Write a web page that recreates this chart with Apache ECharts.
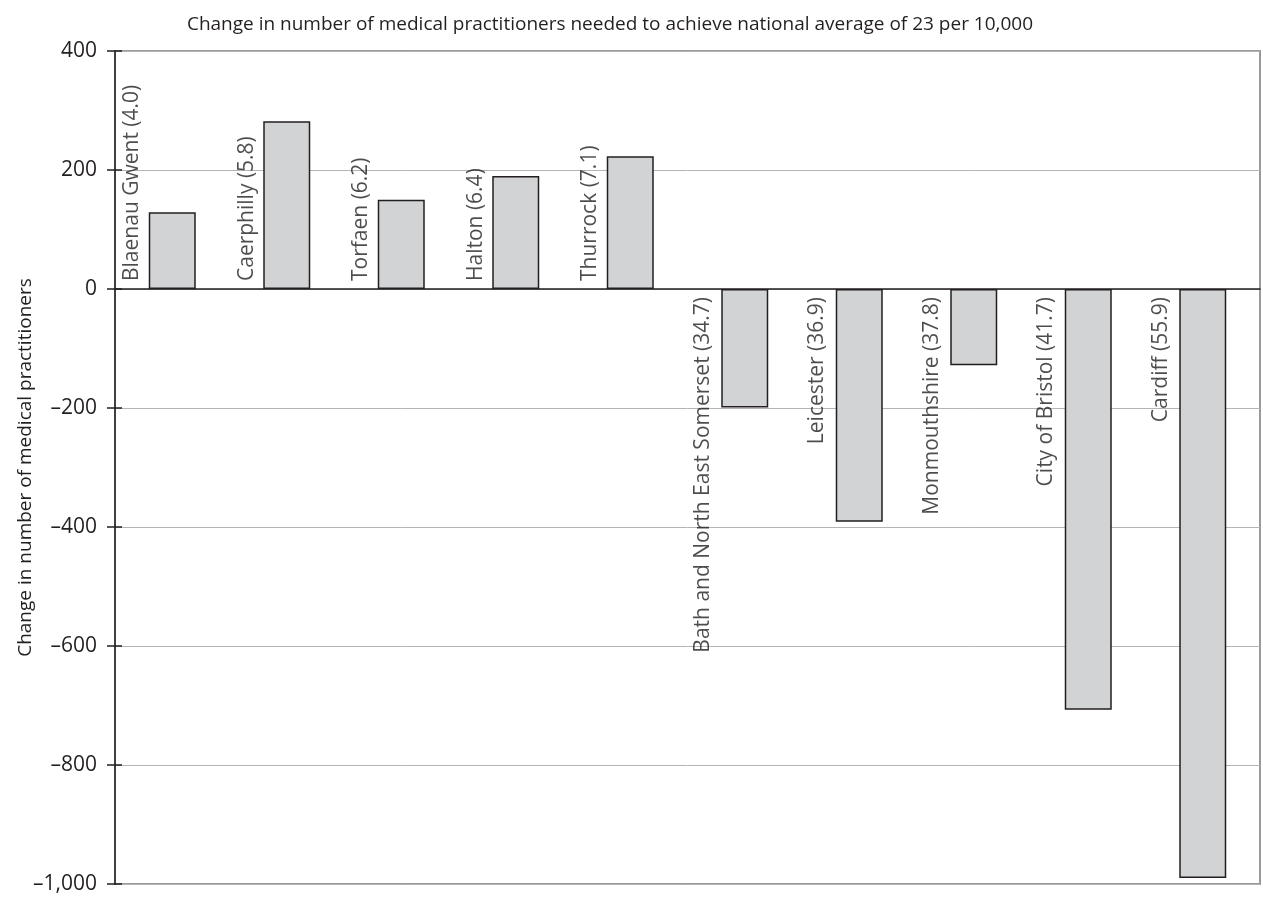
<!DOCTYPE html>
<html>
<head>
<meta charset="utf-8">
<script src="https://cdn.jsdelivr.net/npm/echarts@6/dist/echarts.min.js"></script>
<style>
html,body{margin:0;padding:0;background:#fff;}
#chart{width:1263px;height:899px;}
</style>
</head>
<body>
<div id="chart"></div>
<script>
const titleText = 'Change in number of medical practitioners needed to achieve national average of 23 per 10,000';
const yAxisName = 'Change in number of medical practitioners';
const categories = ['Blaenau Gwent (4.0)', 'Caerphilly (5.8)', 'Torfaen (6.2)', 'Halton (6.4)', 'Thurrock (7.1)',
  'Bath and North East Somerset (34.7)', 'Leicester (36.9)', 'Monmouthshire (37.8)', 'City of Bristol (41.7)', 'Cardiff (55.9)'];
const values = [129, 282, 150, 190, 223, -199, -391, -128, -707, -990];
const yMin = -1000, yMax = 400, yStep = 200;

const FONT = '"Open Sans", sans-serif';
const TXT = '#231f20';

function fmtTick(v) {
  const s = Math.abs(v).toLocaleString('en-US');
  return v < 0 ? '\u2013' + s : s;
}

// label offsets are in the rotated text frame: [along text, across text]
const labelData = categories.map((c, i) => ({
  value: [i, 0],
  name: c,
  label: values[i] >= 0
    ? { align: 'left', offset: [8, -40] }
    : { align: 'right', offset: [-8, -42] }
}));

const chart = echarts.init(document.getElementById('chart'), null, { renderer: 'canvas' });
chart.setOption({
  animation: false,
  backgroundColor: '#ffffff',
  title: {
    text: titleText,
    left: 605,
    top: 10,
    textAlign: 'center',
    textStyle: { fontFamily: FONT, fontSize: 19, fontWeight: 'normal', color: TXT }
  },
  grid: {
    left: 115, right: 3, top: 51, bottom: 15,
    show: true, borderColor: '#9a9a9a', borderWidth: 2, backgroundColor: 'transparent'
  },
  xAxis: {
    type: 'category',
    data: categories,
    axisLine: { show: true, onZero: true, lineStyle: { color: '#231f20', width: 1.5 } },
    axisTick: { show: false },
    axisLabel: { show: false },
    splitLine: { show: false }
  },
  yAxis: [
    {
      type: 'value',
      min: yMin, max: yMax, interval: yStep,
      name: yAxisName,
      nameLocation: 'middle',
      nameGap: 80,
      nameMoveOverlap: false,
      nameTextStyle: { fontFamily: FONT, fontSize: 19, color: TXT },
      axisLine: { show: true, onZero: false, lineStyle: { color: '#231f20', width: 1.5 } },
      axisTick: { show: true, inside: false, length: 8, lineStyle: { color: '#231f20', width: 1.5 } },
      axisLabel: { fontFamily: FONT, fontSize: 21, color: TXT, margin: 18, formatter: fmtTick },
      splitLine: { show: true, lineStyle: { color: '#b4b4b4', width: 1 } }
    },
    {
      type: 'value',
      position: 'left',
      min: yMin, max: yMax, interval: yStep,
      axisLine: { show: false, onZero: false },
      axisTick: { show: true, inside: true, length: 7, lineStyle: { color: '#231f20', width: 1.5 } },
      axisLabel: { show: false },
      splitLine: { show: false }
    }
  ],
  series: [
    {
      type: 'bar',
      data: values,
      barWidth: 47,
      itemStyle: { color: '#d1d3d4', borderColor: '#231f20', borderWidth: 1.5 },
      z: 3
    },
    {
      type: 'scatter',
      data: labelData,
      symbolSize: 0,
      silent: true,
      z: 4,
      label: {
        show: true,
        position: 'inside',
        rotate: 90,
        verticalAlign: 'middle',
        formatter: p => p.name,
        fontFamily: FONT,
        fontSize: 21,
        color: TXT
      }
    }
  ]
});
</script>
</body>
</html>
